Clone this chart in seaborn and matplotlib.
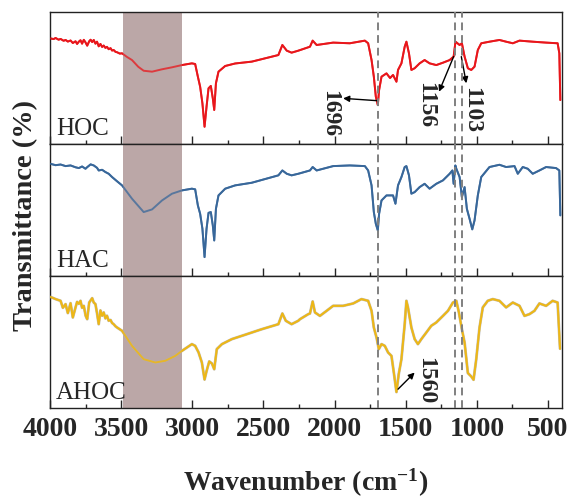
import matplotlib
matplotlib.use('Agg')
import matplotlib.pyplot as plt
import matplotlib.patheffects as pe
from matplotlib.ticker import MultipleLocator
import seaborn as sns
import pandas as pd

sns.set_style('ticks')
plt.rcParams['font.family'] = ['Liberation Serif', 'DejaVu Serif']
plt.rcParams['mathtext.fontset'] = 'custom'
plt.rcParams['mathtext.rm'] = 'Liberation Serif:bold'
plt.rcParams['mathtext.default'] = 'rm'

# FTIR spectra (wavenumber in cm-1, transmittance in % of panel height)
hoc_wn = [4000, 3975, 3961, 3940, 3926, 3905, 3891, 3875, 3856, 3840, 3821, 3810, 3798, 3786,
          3775, 3763, 3751, 3739, 3725, 3715, 3704, 3693, 3681, 3670, 3658, 3646, 3634, 3623,
          3611, 3600, 3588, 3575, 3564, 3553, 3540, 3529, 3510, 3494, 3460, 3424, 3380, 3342,
          3283, 3213, 3143, 3073, 3003, 2980, 2961, 2945, 2929, 2914, 2900, 2886, 2870, 2856,
          2846, 2834, 2816, 2769, 2699, 2582, 2395, 2367, 2336, 2302, 2255, 2173, 2154, 2126,
          2010, 1893, 1787, 1764, 1740, 1724, 1710, 1696, 1687, 1670, 1635, 1610, 1589, 1565,
          1554, 1530, 1507, 1495, 1477, 1460, 1437, 1402, 1367, 1332, 1285, 1238, 1191, 1163,
          1150, 1121, 1105, 1086, 1063, 1039, 1016, 993, 969, 911, 841, 794, 747, 700, 607,
          513, 432, 420, 413]
hoc_t = [80.0, 79.5, 80.3, 79.0, 79.6, 78.2, 78.8, 77.6, 78.4, 76.5, 77.8, 75.8, 77.5, 78.6,
         76.0, 78.9, 77.0, 74.5, 77.8, 79.0, 77.2, 78.8, 76.0, 77.5, 74.0, 75.8, 73.5, 74.6,
         72.8, 73.6, 71.8, 72.6, 70.8, 71.2, 69.8, 69.5, 68.5, 68.7, 66.0, 63.6, 58.5, 55.5,
         54.8, 56.6, 58.1, 59.8, 61.1, 60.6, 51.0, 43.4, 30.8, 13.1, 28.3, 42.2, 44.0, 34.6,
         25.8, 46.0, 54.8, 59.1, 61.0, 62.4, 67.4, 75.0, 70.7, 69.2, 70.7, 73.7, 78.3, 75.0,
         76.8, 76.3, 78.3, 76.3, 63.6, 51.0, 35.9, 29.5, 40.9, 51.0, 53.5, 50.0, 52.3, 47.2,
         56.1, 61.1, 73.7, 77.5, 68.7, 56.1, 57.4, 61.1, 63.6, 61.1, 59.8, 61.6, 63.6, 66.2,
         77.5, 75.0, 76.3, 66.2, 57.4, 56.1, 58.6, 71.2, 76.3, 77.5, 78.8, 77.5, 76.3, 78.3, 77.5,
         76.8, 76.3, 68.7, 33.3]

hac_wn = [4000, 3961, 3926, 3891, 3856, 3821, 3798, 3775, 3751, 3739, 3715, 3693, 3670, 3658,
          3634, 3611, 3588, 3564, 3529, 3494, 3424, 3342, 3283, 3213, 3143, 3073, 3003, 2980,
          2961, 2945, 2929, 2914, 2900, 2886, 2870, 2856, 2846, 2834, 2816, 2769, 2699, 2582,
          2395, 2367, 2336, 2302, 2255, 2173, 2154, 2126, 2010, 1893, 1787, 1764, 1740, 1724,
          1710, 1696, 1687, 1670, 1635, 1589, 1572, 1554, 1530, 1507, 1495, 1477, 1460, 1437,
          1402, 1367, 1332, 1285, 1238, 1191, 1172, 1163, 1151, 1144, 1121, 1105, 1086, 1070,
          1051, 1032, 1016, 993, 969, 911, 841, 794, 735, 712, 677, 642, 607, 560, 513, 443,
          420, 413]
hac_t = [85.1, 84.0, 84.5, 83.3, 83.8, 82.4, 81.8, 83.0, 81.3, 82.5, 84.6, 83.8, 82.0, 80.0,
         80.5, 78.8, 77.5, 75.0, 71.8, 68.7, 58.6, 48.5, 50.5, 57.3, 62.4, 64.9, 66.2, 65.7,
         53.5, 47.2, 35.9, 14.4, 35.9, 47.9, 48.5, 38.4, 27.0, 51.0, 61.1, 66.2, 68.7, 70.7,
         76.3, 80.0, 77.5, 76.3, 77.5, 80.0, 82.6, 80.0, 83.3, 83.8, 83.3, 80.0, 68.7, 48.5,
         39.6, 34.6, 47.2, 57.3, 61.1, 61.1, 54.8, 68.7, 75.0, 82.6, 83.3, 76.3, 62.4, 63.6,
         67.4, 69.9, 66.2, 69.9, 72.5, 77.5, 80.0, 69.9, 83.8, 81.3, 75.0, 59.8, 67.4, 51.0,
         43.4, 35.4, 42.2, 61.1, 75.0, 82.6, 84.3, 82.6, 83.3, 77.5, 82.6, 81.3, 77.5, 80.0,
         82.6, 81.8, 80.0, 46.0]

ahoc_wn = [4000, 3980, 3961, 3945, 3926, 3910, 3891, 3875, 3856, 3840, 3821, 3810, 3798, 3786,
           3775, 3763, 3750, 3739, 3725, 3704, 3693, 3681, 3670, 3658, 3646, 3634, 3623, 3611,
           3600, 3588, 3575, 3564, 3553, 3540, 3529, 3494, 3424, 3342, 3260, 3190, 3120, 3073,
           3003, 2980, 2956, 2933, 2914, 2900, 2881, 2862, 2846, 2828, 2792, 2722, 2629, 2512,
           2395, 2367, 2343, 2302, 2255, 2243, 2185, 2173, 2154, 2138, 2103, 2056, 2010, 1940,
           1869, 1811, 1764, 1740, 1724, 1705, 1689, 1670, 1647, 1624, 1600, 1582, 1565, 1549,
           1530, 1507, 1495, 1484, 1460, 1437, 1414, 1390, 1355, 1320, 1285, 1238, 1203, 1168,
           1144, 1126, 1105, 1086, 1063, 1039, 1023, 1004, 981, 958, 923, 888, 841, 794, 747,
           700, 665, 630, 595, 560, 513, 467, 432, 415]
ahoc_t = [84.3, 83.5, 82.6, 82.0, 81.3, 76.0, 78.8, 72.0, 79.5, 68.7, 76.3, 80.5, 79.0, 81.3,
          76.0, 77.5, 70.0, 67.4, 80.0, 83.3, 80.0, 78.8, 72.0, 63.6, 74.0, 70.0, 72.5, 68.0,
          70.0, 66.2, 66.8, 64.5, 63.6, 62.0, 61.1, 58.6, 47.2, 37.1, 34.6, 35.9, 39.6, 43.4,
          48.5, 47.2, 42.2, 34.6, 21.7, 28.0, 35.4, 33.8, 29.5, 44.7, 48.5, 52.3, 55.6, 59.8,
          63.6, 71.7, 66.2, 63.6, 66.2, 67.4, 71.2, 71.7, 80.8, 72.5, 69.9, 73.7, 77.5, 77.5,
          79.3, 82.6, 81.3, 73.7, 61.1, 53.5, 44.7, 48.5, 47.2, 42.2, 39.6, 25.8, 12.2, 25.8,
          37.1, 63.6, 81.3, 76.3, 61.1, 52.3, 48.5, 52.3, 57.3, 62.4, 64.9, 69.9, 73.7, 80.0,
          81.3, 72.5, 59.8, 49.7, 26.6, 24.0, 21.5, 37.1, 61.1, 76.3, 81.3, 82.6, 81.3, 76.3, 80.0,
          77.5, 69.9, 71.2, 73.7, 79.3, 77.5, 81.3, 80.0, 45.0]

samples = ['HOC', 'HAC', 'AHOC']
colors = ['#e8161b', '#38679a', '#f6b800']
peak_lines = [1696, 1156, 1103]
oh_band = (3490, 3070)
x_ticks = [4000, 3500, 3000, 2500, 2000, 1500, 1000, 500]

spectra = [(hoc_wn, hoc_t), (hac_wn, hac_t), (ahoc_wn, ahoc_t)]

fig, axes = plt.subplots(3, 1, sharex=True, figsize=(5.69, 4.99), dpi=100)
fig.subplots_adjust(left=0.088, right=0.988, top=0.976, bottom=0.182, hspace=0)

for ax, name, (wn, t), c in zip(axes, samples, spectra, colors):
    df = pd.DataFrame({'wn': wn, 't': t})
    # full line under the band, faded copy on top so it shows through the band
    sns.lineplot(data=df, x='wn', y='t', ax=ax, color=c, lw=1.4, sort=False, estimator=None, zorder=1)
    ax.axvspan(oh_band[0], oh_band[1], color='#bba7a7', lw=0, zorder=2)
    sns.lineplot(data=df, x='wn', y='t', ax=ax, color=c, lw=1.4, sort=False, estimator=None,
                 alpha=0.75, zorder=3)
    if name == 'AHOC':
        for ln in ax.lines:
            ln.set_path_effects([pe.Stroke(linewidth=2.0, foreground='#b4b4b4', alpha=0.5), pe.Normal()])
    for p in peak_lines:
        ax.axvline(p, color='#808080', ls=(0, (4, 2.5)), lw=1.4, zorder=4)
    ax.set_ylim(0, 100)
    ax.set_yticks([])
    ax.set_ylabel('')
    ax.set_xlabel('')
    ax.text(0.012, 0.07, name, transform=ax.transAxes, fontsize=18, va='baseline', zorder=5)
    ax.xaxis.set_minor_locator(MultipleLocator(250))
    ax.tick_params(axis='x', which='major', direction='in', length=6, width=1, pad=6)
    ax.tick_params(axis='x', which='minor', direction='in', length=3, width=1)
    for s in ax.spines.values():
        s.set_color('#222222')
        s.set_linewidth(1.0)

axes[-1].set_xlim(4000, 400)
axes[-1].set_xticks(x_ticks)
axes[-1].set_xticklabels([str(v) for v in x_ticks], fontsize=20, fontweight='bold')
axes[-1].set_xlabel('Wavenumber (cm$^{-1}$)', fontsize=20, fontweight='bold', labelpad=18)
fig.text(0.045, 0.568, 'Transmittance (%)', rotation=90, ha='center', va='center',
         fontsize=20.5, fontweight='bold')

arrow = dict(arrowstyle='-|>', color='black', lw=1.0, mutation_scale=9, shrinkA=0, shrinkB=0)
ann = dict(rotation=-90, ha='center', va='center', fontsize=17, fontweight='bold')

# HOC peak labels
axes[0].annotate('', xy=(1940, 34.6), xytext=(1696, 32.8), arrowprops=arrow)
axes[0].text(2033, 23.2, '1696', **ann)
axes[0].annotate('', xy=(1266, 39.6), xytext=(1163, 66.2), arrowprops=arrow)
axes[0].text(1360, 29.5, '1156', **ann)
axes[0].annotate('', xy=(1074, 46.0), xytext=(1109, 66.2), arrowprops=arrow)
axes[0].text(1035, 25.8, '1103', **ann)
# AHOC peak label
axes[2].annotate('', xy=(1437, 27.0), xytext=(1554, 14.4), arrowprops=arrow)
axes[2].text(1360, 20.7, '1560', **ann)

plt.savefig('out.png', dpi=100)
plt.close()
